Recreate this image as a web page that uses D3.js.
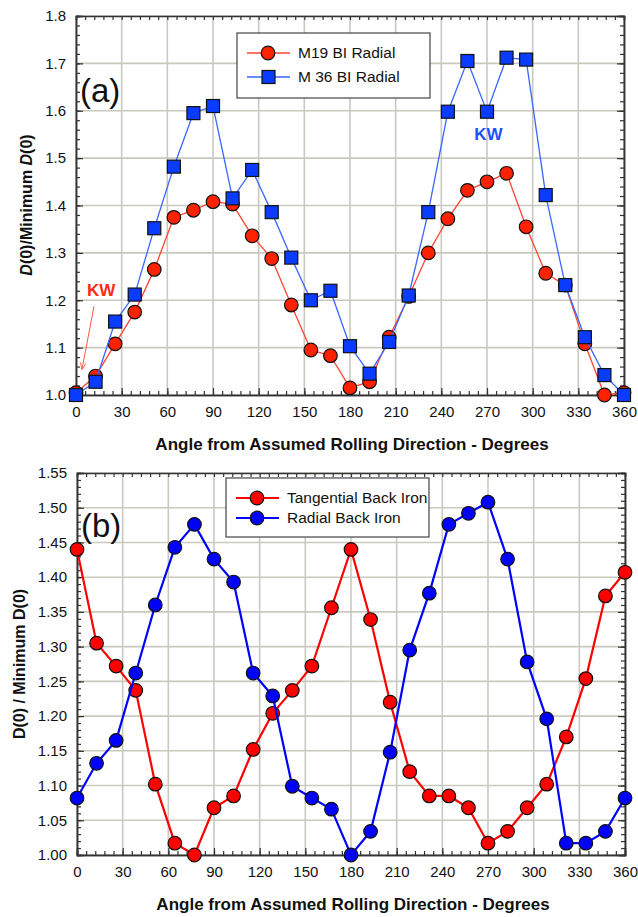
<!DOCTYPE html>
<html>
<head>
<meta charset="utf-8">
<script src="https://cdn.jsdelivr.net/npm/d3@7"></script>
<style>
  body { margin: 0; background: #fff; }
  svg text { font-family: Arial, "Liberation Sans", sans-serif; fill: #111; }
</style>
</head>
<body>
<svg id="chart" width="638" height="917"></svg>
<script>
// angles: 29 points, 0..360
const angles = d3.range(29).map(i => i * 360 / 28);
const xTicks = [0, 30, 60, 90, 120, 150, 180, 210, 240, 270, 300, 330, 360];

// panel (a)
const m19Radial = [1.005, 1.040, 1.108, 1.175, 1.265, 1.375, 1.390, 1.408, 1.403, 1.336,
  1.288, 1.190, 1.095, 1.083, 1.015, 1.028, 1.122, 1.208, 1.300, 1.372,
  1.432, 1.450, 1.468, 1.355, 1.257, 1.232, 1.108, 1.000, 1.005];
const m36Radial = [1.000, 1.028, 1.155, 1.212, 1.352, 1.482, 1.595, 1.610, 1.415, 1.475,
  1.386, 1.290, 1.200, 1.220, 1.103, 1.045, 1.112, 1.210, 1.386, 1.598,
  1.705, 1.598, 1.712, 1.708, 1.422, 1.232, 1.122, 1.042, 1.000];
const yTicksA = [1.0, 1.1, 1.2, 1.3, 1.4, 1.5, 1.6, 1.7, 1.8];

// panel (b)
const tangentialBI = [1.440, 1.305, 1.272, 1.237, 1.102, 1.017, 1.000, 1.068, 1.085, 1.152,
  1.204, 1.237, 1.272, 1.356, 1.440, 1.339, 1.220, 1.120, 1.085, 1.085,
  1.068, 1.017, 1.034, 1.068, 1.102, 1.170, 1.254, 1.373, 1.407];
const radialBI = [1.082, 1.132, 1.165, 1.262, 1.360, 1.443, 1.476, 1.426, 1.393, 1.262,
  1.229, 1.099, 1.082, 1.066, 1.000, 1.034, 1.148, 1.295, 1.377, 1.476,
  1.492, 1.508, 1.426, 1.278, 1.196, 1.017, 1.017, 1.034, 1.082];
const yTicksB = [1.00, 1.05, 1.10, 1.15, 1.20, 1.25, 1.30, 1.35, 1.40, 1.45, 1.50, 1.55];

const svg = d3.select("#chart");
const gridColor = "#cac9bf";

function drawPanel(p) {
  const x = d3.scaleLinear().domain([0, 360]).range([p.left, p.right]);
  const y = d3.scaleLinear().domain(p.yDomain).range([p.bottom, p.top]);
  const g = svg.append("g");

  // grid
  g.selectAll(".gx").data(xTicks).enter().append("line")
    .attr("x1", d => x(d)).attr("x2", d => x(d))
    .attr("y1", p.top).attr("y2", p.bottom)
    .attr("stroke", gridColor).attr("stroke-width", 1.6);
  g.selectAll(".gy").data(p.yTicks).enter().append("line")
    .attr("x1", p.left).attr("x2", p.right)
    .attr("y1", d => y(d)).attr("y2", d => y(d))
    .attr("stroke", gridColor).attr("stroke-width", 1.6);

  // axes, ticks inward
  const minorX = d3.range(0, 361, 6);
  const minorY = d3.range(p.yDomain[0], p.yDomain[1] + 1e-9, p.minorStep);
  g.append("g").attr("transform", `translate(0,${p.bottom})`)
    .call(d3.axisBottom(x).tickValues(minorX).tickSize(-4).tickFormat(""));
  g.append("g").attr("transform", `translate(0,${p.bottom})`)
    .call(d3.axisBottom(x).tickValues(xTicks).tickSize(-7).tickPadding(14).tickFormat(d3.format("d")))
    .call(a => a.selectAll("text").attr("font-size", 15).attr("dy", "0.5em"));
  g.append("g").attr("transform", `translate(0,${p.top})`)
    .call(d3.axisTop(x).tickValues(minorX).tickSize(-4).tickFormat(""));
  g.append("g").attr("transform", `translate(${p.left},0)`)
    .call(d3.axisLeft(y).tickValues(minorY).tickSize(-4).tickFormat(""));
  g.append("g").attr("transform", `translate(${p.left},0)`)
    .call(d3.axisLeft(y).tickValues(p.yTicks).tickSize(-7).tickPadding(10).tickFormat(d3.format(p.yFmt)))
    .call(a => a.selectAll("text").attr("font-size", 15));
  g.append("g").attr("transform", `translate(${p.right},0)`)
    .call(d3.axisRight(y).tickValues(minorY).tickSize(-4).tickFormat(""));
  g.append("g").attr("transform", `translate(${p.right},0)`)
    .call(d3.axisRight(y).tickValues(p.yTicks).tickSize(-7).tickFormat(""));
  g.selectAll(".domain").attr("stroke", "#333").attr("stroke-width", 1.5);
  g.selectAll(".tick line").attr("stroke", "#333").attr("stroke-width", 1.2);

  // series
  p.series.forEach(s => {
    const pts = angles.map((a, i) => [a, s.values[i]]);
    g.append("path").datum(pts)
      .attr("fill", "none").attr("stroke", s.line).attr("stroke-width", p.lineWidth)
      .attr("d", d3.line().x(d => x(d[0])).y(d => y(d[1])));
    const mk = g.selectAll(null).data(pts).enter();
    if (s.shape === "square") {
      mk.append("rect")
        .attr("x", d => x(d[0]) - 6.5).attr("y", d => y(d[1]) - 6.5)
        .attr("width", 13).attr("height", 13)
        .attr("fill", s.fill).attr("stroke", "#111").attr("stroke-width", 1.2);
    } else {
      mk.append("circle")
        .attr("cx", d => x(d[0])).attr("cy", d => y(d[1])).attr("r", 6.8)
        .attr("fill", s.fill).attr("stroke", "#111").attr("stroke-width", 1.2);
    }
  });

  // legend
  const L = p.legend;
  g.append("rect").attr("x", L.x).attr("y", L.y).attr("width", L.w).attr("height", L.h)
    .attr("fill", "#fff").attr("stroke", "#444").attr("stroke-width", 1.2);
  p.series.forEach((s, i) => {
    const ly = L.y + L.first + i * L.gap;
    g.append("line").attr("x1", L.x + 10).attr("x2", L.x + 53).attr("y1", ly).attr("y2", ly)
      .attr("stroke", s.line).attr("stroke-width", p.lineWidth);
    if (s.shape === "square") {
      g.append("rect").attr("x", L.x + 25).attr("y", ly - 6.5).attr("width", 13).attr("height", 13)
        .attr("fill", s.fill).attr("stroke", "#111").attr("stroke-width", 1.2);
    } else {
      g.append("circle").attr("cx", L.x + 31).attr("cy", ly).attr("r", 6.8)
        .attr("fill", s.fill).attr("stroke", "#111").attr("stroke-width", 1.2);
    }
    g.append("text").attr("x", L.x + 61).attr("y", ly).attr("dy", "0.35em")
      .attr("font-size", 15.5).text(s.name);
  });

  // panel letter
  g.append("text").attr("x", p.left + 4).attr("y", p.letterY).attr("font-size", 33).text(p.letter);

  // x title
  g.append("text").attr("x", (p.left + p.right) / 2 + 2).attr("y", p.bottom + 55)
    .attr("text-anchor", "middle").attr("font-size", 17).attr("font-weight", "bold")
    .text("Angle from Assumed Rolling Direction - Degrees");

  return { g, x, y };
}

const A = drawPanel({
  left: 76, right: 624, top: 16, bottom: 395,
  yDomain: [1.0, 1.8], yTicks: yTicksA, yFmt: ".1f", minorStep: 0.02,
  lineWidth: 1.3,
  series: [
    { name: "M19 BI Radial", values: m19Radial, shape: "circle", fill: "#ff2200", line: "#ff4433" },
    { name: "M 36 BI Radial", values: m36Radial, shape: "square", fill: "#0a3cff", line: "#3a66ff" }
  ],
  legend: { x: 237, y: 33, w: 193, h: 65, first: 20, gap: 24 },
  letter: "(a)", letterY: 102
});

const B = drawPanel({
  left: 77, right: 625, top: 473, bottom: 855,
  yDomain: [1.0, 1.55], yTicks: yTicksB, yFmt: ".2f", minorStep: 0.01,
  lineWidth: 2.2,
  series: [
    { name: "Tangential Back Iron", values: tangentialBI, shape: "circle", fill: "#ff0000", line: "#ff0000" },
    { name: "Radial Back Iron", values: radialBI, shape: "circle", fill: "#0000ff", line: "#0000ff" }
  ],
  legend: { x: 226, y: 478, w: 203, h: 59, first: 20, gap: 20 },
  letter: "(b)", letterY: 537
});

// y axis titles
const ta = svg.append("text").attr("transform", "translate(32,205) rotate(-90)")
  .attr("text-anchor", "middle").attr("font-size", 16).attr("font-weight", "bold");
ta.append("tspan").attr("font-style", "italic").text("D");
ta.append("tspan").text("(0)/Minimum ");
ta.append("tspan").attr("font-style", "italic").text("D");
ta.append("tspan").text("(0)");

svg.append("text").attr("transform", "translate(25,664) rotate(-90)")
  .attr("text-anchor", "middle").attr("font-size", 16).attr("font-weight", "bold")
  .text("D(0) / Minimum D(0)");

// KW annotations
svg.append("defs").append("marker").attr("id", "arr")
  .attr("viewBox", "0 0 10 10").attr("refX", 9).attr("refY", 5)
  .attr("markerWidth", 7).attr("markerHeight", 7).attr("orient", "auto")
  .append("path").attr("d", "M0,1 L10,5 L0,9").attr("fill", "none").attr("stroke", "#ff5544").attr("stroke-width", 1.2);
svg.append("line").attr("x1", A.x(11.8)).attr("y1", A.y(1.187)).attr("x2", A.x(4)).attr("y2", A.y(1.055))
  .attr("stroke", "#ff5544").attr("stroke-width", 1).attr("marker-end", "url(#arr)");
svg.append("text").attr("x", A.x(16.5)).attr("y", A.y(1.21)).attr("text-anchor", "middle")
  .attr("font-size", 17).attr("font-weight", "bold").style("fill", "#ff2a1a").text("KW");
svg.append("text").attr("x", A.x(271)).attr("y", A.y(1.538)).attr("text-anchor", "middle")
  .attr("font-size", 17).attr("font-weight", "bold").style("fill", "#1f4fff").text("KW");
</script>
</body>
</html>
